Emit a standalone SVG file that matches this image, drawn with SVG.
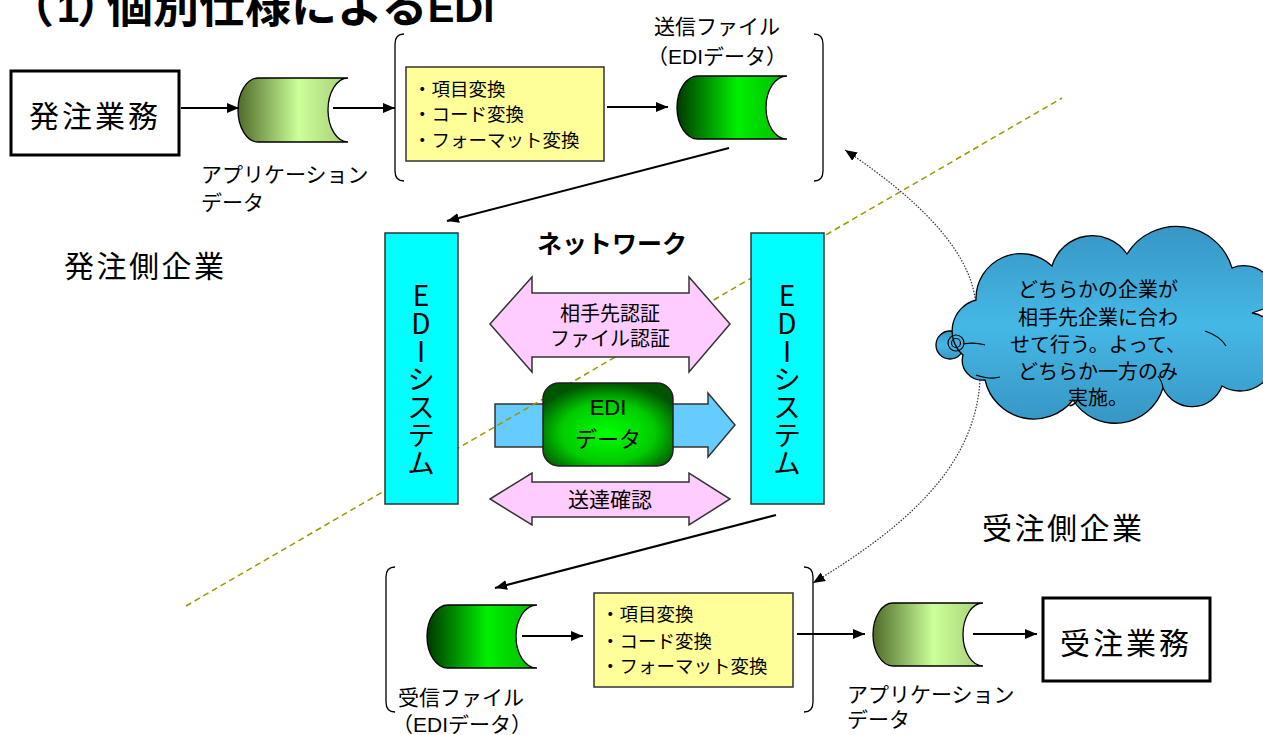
<svg xmlns="http://www.w3.org/2000/svg" width="1263" height="735" viewBox="0 0 1263 735">
<defs>
<style>
text{font-family:'Liberation Sans','Noto Sans CJK JP',sans-serif;fill:#000}
.ln{stroke:#000;stroke-width:2;fill:none}
.dot{stroke:#333;stroke-width:1.2;stroke-dasharray:1.5 1.5;fill:none}
.br{stroke:#000;stroke-width:1.3;fill:none}
.ybox{fill:#ffff99;stroke:#333;stroke-width:1.5}
.cyan{fill:#00ffff;stroke:#333;stroke-width:1.5}
.pink{fill:#ffccff;stroke:#333;stroke-width:1.5}
.cyl{stroke:#000;stroke-width:1.3}
.lbl{font-size:21px}
.yt{font-size:18.5px}
.vt{font-size:28px;writing-mode:vertical-rl;text-orientation:upright;font-family:'Noto Sans CJK JP',sans-serif}
.palt{font-feature-settings:"palt" 1}
</style>
<linearGradient id="gLight" x1="0" y1="0" x2="1" y2="0">
<stop offset="0" stop-color="#4f6b2a"/>
<stop offset="0.55" stop-color="#ccff99"/>
<stop offset="1" stop-color="#a6cc77"/>
</linearGradient>
<linearGradient id="gGreen" x1="0" y1="0" x2="1" y2="0">
<stop offset="0" stop-color="#003800"/>
<stop offset="0.55" stop-color="#00f000"/>
<stop offset="1" stop-color="#00b800"/>
</linearGradient>
<radialGradient id="gRect" cx="0.5" cy="0.6" r="0.6">
<stop offset="0" stop-color="#00ff00"/>
<stop offset="0.6" stop-color="#00cc00"/>
<stop offset="1" stop-color="#005500"/>
</radialGradient>
<linearGradient id="gCloud" x1="0" y1="0" x2="0" y2="1">
<stop offset="0" stop-color="#3796c4"/>
<stop offset="0.5" stop-color="#45b8e6"/>
<stop offset="1" stop-color="#3796c4"/>
</linearGradient>
<marker id="ah" markerUnits="userSpaceOnUse" markerWidth="12" markerHeight="10" refX="12" refY="5" orient="auto">
<path d="M0,0 L12,5 L0,10 z" fill="#000"/>
</marker>
</defs>

<rect width="1263" height="735" fill="#fff"/>

<text id="title" y="22" font-weight="bold" font-size="46"><tspan class="palt" x="29">（</tspan><tspan x="57" font-size="40">1</tspan><tspan class="palt" x="79">）</tspan><tspan x="107">個別仕様による</tspan><tspan font-size="40">EDI</tspan></text>

<g id="region-labels">
<text x="64" y="277" font-size="30" letter-spacing="2.5">発注側企業</text>
<text x="982" y="539" font-size="30" letter-spacing="2.5">受注側企業</text>
</g>

<g id="boundary">
<polygon points="495,404 708,404 708,393 735,425 708,457 708,447 495,447" fill="#66ccff" stroke="#333" stroke-width="1.5"/>
<line x1="186" y1="606" x2="1062" y2="98" stroke="#999900" stroke-width="1.5" stroke-dasharray="6 4"/>
</g>

<g id="order-business">
<rect x="11" y="71" width="168" height="84" fill="#fff" stroke="#000" stroke-width="3"/>
<text x="95" y="127" font-size="30" letter-spacing="3" text-anchor="middle">発注業務</text>
</g>

<g id="app-data-1">
<path class="cyl" fill="url(#gLight)" d="M258,78 L348,78 A20,32 0 0 0 348,142 L258,142 A20,32 0 0 1 258,78 Z"/>
<text class="lbl" x="201" y="182">アプリケーション</text>
<text class="lbl" x="201" y="210">データ</text>
</g>

<g id="send-group">
<path class="br" d="M404,34 Q395,34 395,44 L395,171 Q395,181 404,181"/>
<path class="br" d="M814,34 Q823,34 823,44 L823,171 Q823,181 814,181"/>
<rect class="ybox" x="406" y="67" width="198" height="94"/>
<text class="yt" x="413" y="96">・項目変換</text>
<text class="yt" x="413" y="121">・コード変換</text>
<text class="yt" x="413" y="147">・フォーマット変換</text>
</g>

<g id="send-file">
<path class="cyl" fill="url(#gGreen)" d="M698,76 L787,76 A21,31.5 0 0 0 787,139 L698,139 A21,31.5 0 0 1 698,76 Z"/>
<text class="lbl" x="717" y="34" text-anchor="middle">送信ファイル</text>
<text class="lbl" x="717" y="64" text-anchor="middle">（EDIデータ）</text>
</g>

<g id="network">
<text x="612" y="253" font-size="25" font-weight="bold" text-anchor="middle">ネットワーク</text>
<polygon class="pink" points="490,324 532,277 532,293 689,293 689,277 730,324 689,372 689,357 532,357 532,372"/>
<text x="610" y="321" font-size="20" text-anchor="middle">相手先認証</text>
<text x="610" y="346" font-size="20" text-anchor="middle">ファイル認証</text>
<polygon class="pink" points="490,499 532,473 532,482 689,482 689,473 730,499 689,525 689,517 532,517 532,525"/>
<text x="610" y="507" font-size="21" text-anchor="middle">送達確認</text>
</g>

<g id="edi-data">
<rect x="543" y="383" width="130" height="83" rx="16" fill="url(#gRect)" stroke="#222" stroke-width="1.5"/>
<text x="608" y="415" font-size="22" text-anchor="middle">EDI</text>
<text x="608" y="447" font-size="22" text-anchor="middle">データ</text>
</g>

<g id="edi-system-left">
<rect class="cyan" x="385" y="233" width="73" height="271"/>
<text class="vt" x="421" y="281">EDIシステム</text>
</g>

<g id="edi-system-right">
<rect class="cyan" x="751" y="233" width="73" height="271"/>
<text class="vt" x="787" y="281">EDIシステム</text>
</g>

<g id="receive-group">
<path class="br" d="M395,567 Q386,567 386,577 L386,702 Q386,712 395,712"/>
<path class="br" d="M804,567 Q813,567 813,577 L813,702 Q813,712 804,712"/>
<rect class="ybox" x="594" y="593" width="199" height="94"/>
<text class="yt" x="601" y="621">・項目変換</text>
<text class="yt" x="601" y="648">・コード変換</text>
<text class="yt" x="601" y="673">・フォーマット変換</text>
</g>

<g id="receive-file">
<path class="cyl" fill="url(#gGreen)" d="M448,605 L537,605 A21,31.5 0 0 0 537,668 L448,668 A21,31.5 0 0 1 448,605 Z"/>
<text class="lbl" x="398" y="705">受信ファイル</text>
<text class="lbl" x="462" y="732" text-anchor="middle">（EDIデータ）</text>
</g>

<g id="app-data-2">
<path class="cyl" fill="url(#gLight)" d="M893,603 L983,603 A20,31.5 0 0 0 983,666 L893,666 A20,31.5 0 0 1 893,603 Z"/>
<text class="lbl" x="847" y="702">アプリケーション</text>
<text class="lbl" x="847" y="727">データ</text>
</g>

<g id="order-receive-business">
<rect x="1043" y="598" width="167" height="83" fill="#fff" stroke="#000" stroke-width="3"/>
<text x="1126" y="654" font-size="30" letter-spacing="3" text-anchor="middle">受注業務</text>
</g>

<g id="connectors">
<line class="ln" x1="181" y1="108" x2="239" y2="108" marker-end="url(#ah)"/>
<line class="ln" x1="333" y1="108" x2="395" y2="108" marker-end="url(#ah)"/>
<line class="ln" x1="607" y1="107" x2="668" y2="107" marker-end="url(#ah)"/>
<line class="ln" x1="729" y1="148" x2="447" y2="221" marker-end="url(#ah)"/>
<line class="ln" x1="776" y1="515" x2="495" y2="588" marker-end="url(#ah)"/>
<line class="ln" x1="522" y1="636" x2="583" y2="636" marker-end="url(#ah)"/>
<line class="ln" x1="797" y1="634" x2="865" y2="634" marker-end="url(#ah)"/>
<line class="ln" x1="973" y1="634" x2="1037" y2="634" marker-end="url(#ah)"/>
<path class="dot" d="M975,298 C968,250 920,200 845,150" marker-end="url(#ah)"/>
<path class="dot" d="M980,380 C975,470 900,530 813,583" marker-end="url(#ah)"/>
</g>

<g id="cloud">
<circle cx="950" cy="345" r="14" fill="url(#gCloud)" stroke="#000" stroke-width="1.3"/>
<path fill="url(#gCloud)" stroke="#000" stroke-width="1.3" d="M976,300 A45,45 0 0 1 1052,266 A42,42 0 0 1 1127,254 A58,58 0 0 1 1232,268 A32,32 0 0 1 1275,305 L1252,313 A30,30 0 0 1 1275,355 A35,35 0 0 1 1222,386 A32,32 0 0 1 1163,388 A50,50 0 0 1 1073,400 A50,50 0 0 1 985,380 A20,20 0 0 1 963,355 A32,32 0 0 1 976,300 Z"/>
<path fill="none" stroke="#000" stroke-width="1.2" d="M963,344 Q975,342 985,345 M976,375 Q990,380 1000,377 M1205,331 Q1220,336 1226,346 M1163,388 Q1162,381 1158,376"/>
<circle cx="956" cy="343" r="8" fill="none" stroke="#000" stroke-width="1.2"/>
<circle cx="956" cy="343" r="4.5" fill="none" stroke="#000" stroke-width="1.2"/>
<text x="1098" y="297" font-size="20" text-anchor="middle">どちらかの企業が</text>
<text x="1098" y="325" font-size="20" text-anchor="middle">相手先企業に合わ</text>
<text x="1098" y="352" font-size="20" text-anchor="middle">せて行う。よって、</text>
<text x="1098" y="379" font-size="20" text-anchor="middle">どちらか一方のみ</text>
<text x="1098" y="405" font-size="20" text-anchor="middle">実施。</text>
</g>
</svg>
